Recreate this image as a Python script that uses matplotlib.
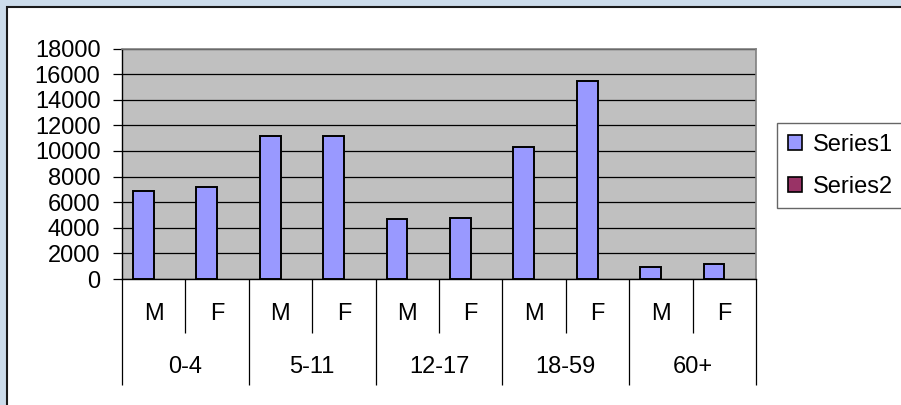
import matplotlib
matplotlib.use("Agg")
import matplotlib.pyplot as plt
from matplotlib.patches import Rectangle, Patch
import numpy as np

# ---- data ----
age_groups = ['0-4', '5-11', '12-17', '18-59', '60+']
sexes = ['M', 'F']
series1 = [6900, 7200, 11200, 11200, 4650, 4800, 10300, 15500, 900, 1200]
series2 = [0, 0, 0, 0, 0, 0, 0, 0, 0, 0]
series_names = ['Series1', 'Series2']
yticks = [0, 2000, 4000, 6000, 8000, 10000, 12000, 14000, 16000, 18000]

W, H = 901, 405
DPI = 100
plt.rcParams['font.family'] = ['Liberation Sans', 'DejaVu Sans']
FS = 17

fig = plt.figure(figsize=(W / DPI, H / DPI), dpi=DPI, facecolor='#CCDCEB')

# chart area (white box with dark border)
fig.patches.append(Rectangle((7 / W, -0.1), 1.2, (H - 7) / H + 0.1, transform=fig.transFigure,
                             facecolor='white', edgecolor='#1a1a1a', linewidth=1.5, zorder=-10))

# plot area in pixel coordinates
L, R, T, B = 122, 756, 48.5, 279
ax = fig.add_axes([L / W, (H - B) / H, (R - L) / W, (B - T) / H])
ax.set_facecolor('#C0C0C0')

n = len(series1)
x = np.arange(n) + 0.5
bw = 0.325
ax.bar(x - bw / 2, series1, width=bw, color='#9999FF', edgecolor='black', linewidth=1.4, zorder=3)
ax.bar(x + bw / 2, series2, width=bw, color='#993366', edgecolor='none', linewidth=0, zorder=3)

ax.set_xlim(0, n)
ax.set_ylim(0, 18000)
ax.set_yticks(yticks)
ax.set_yticklabels([str(v) for v in yticks], fontsize=FS)
ax.yaxis.grid(True, color='black', linewidth=0.9, zorder=1)
ax.set_axisbelow(True)
ax.tick_params(axis='y', direction='out', length=6.5, width=0.9, pad=9, color='black')

# x "table" ticks: major at group boundaries (long), minor at sex boundaries (short)
ax.set_xticks(np.arange(0, n + 1, 2))
ax.set_xticks(np.arange(1, n, 2), minor=True)
ax.set_xticklabels([])
ax.tick_params(axis='x', which='major', direction='out', length=76, width=0.9, color='black')
ax.tick_params(axis='x', which='minor', direction='out', length=39, width=0.9, color='black')

for s in ['top', 'right']:
    ax.spines[s].set_color('#808080')
    ax.spines[s].set_linewidth(1.2)
for s in ['left', 'bottom']:
    ax.spines[s].set_color('black')
    ax.spines[s].set_linewidth(1.0)

trans = ax.get_xaxis_transform()
ph = B - T
for i in range(n):
    ax.text(x[i], -(314 - B) / ph, sexes[i % 2], transform=trans, ha='center', va='center', fontsize=FS)
for g, name in enumerate(age_groups):
    ax.text(2 * g + 1, -(367 - B) / ph, name, transform=trans, ha='center', va='center', fontsize=FS)

# legend
handles = [Patch(facecolor='#9999FF', edgecolor='black', linewidth=1.2),
           Patch(facecolor='#993366', edgecolor='black', linewidth=1.2)]
leg = fig.legend(handles, series_names, loc='upper left',
                 bbox_to_anchor=(777 / W, (H - 123) / H), bbox_transform=fig.transFigure,
                 fontsize=FS, frameon=True, fancybox=False, handlelength=0.6, handleheight=0.6,
                 handletextpad=0.45, labelspacing=0.85, borderpad=0.45, borderaxespad=0)
leg.get_frame().set_edgecolor('#404040')
leg.get_frame().set_linewidth(1.0)

fig.savefig('out.png', dpi=DPI, facecolor=fig.get_facecolor())
